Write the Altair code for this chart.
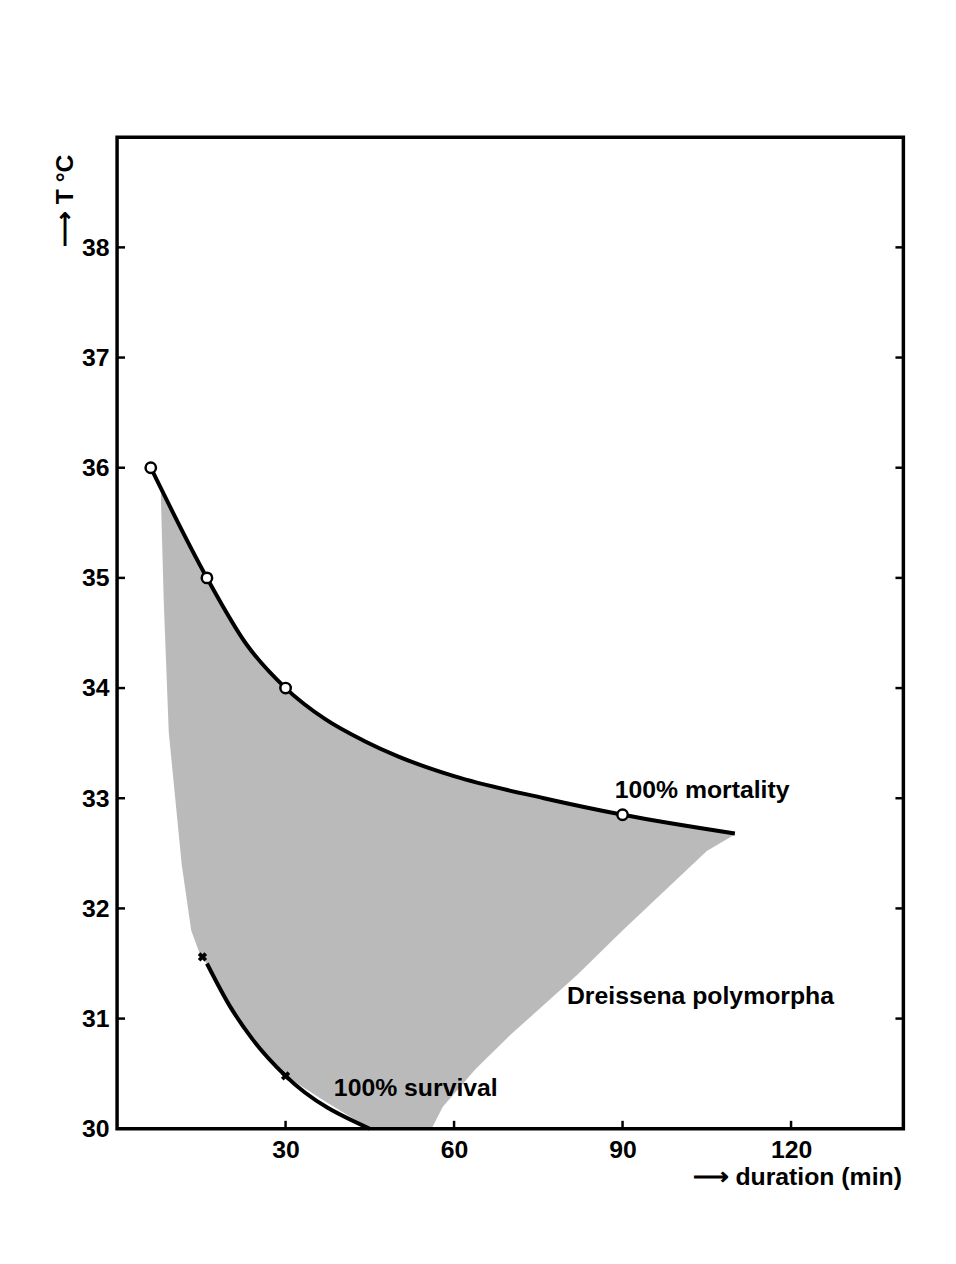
import altair as alt
import pandas as pd

# ---- data ----
# 100% mortality curve (duration min, temperature C)
mort_x = [6, 16, 23, 30, 37, 44, 50, 60, 76, 90, 110]
mort_t = [36.0, 35.0, 34.4, 34.0, 33.72, 33.52, 33.38, 33.2, 33.0, 32.85, 32.68]
# measured points on the mortality curve (open circles)
mort_pt_x = [6, 16, 30, 90]
mort_pt_t = [36.0, 35.0, 34.0, 32.85]
# 100% survival curve
surv_x = [16, 20, 24, 30, 45]
surv_t = [31.5, 31.12, 30.82, 30.48, 30.0]
# measured points on the survival curve (crosses)
surv_pt_x = [15.2, 30]
surv_pt_t = [31.56, 30.48]
# stippled zone between the two limits
zone_x = [7.8, 8.3, 9.2, 11.5, 13.2, 15, 16, 20, 24, 30, 37, 45, 56, 58, 63.8, 70, 82, 90, 100, 105, 110]
zone_top = [35.82, 35.77, 35.68, 35.45, 35.28, 35.1, 35.0, 34.65, 34.34, 34.0, 33.72, 33.5, 33.26, 33.22,
            33.14, 33.06, 32.94, 32.85, 32.76, 32.72, 32.67]
zone_bot = [35.73, 34.8, 33.6, 32.4, 31.8, 31.55, 31.5, 31.12, 30.82, 30.48, 30.25, 30.0, 30.0, 30.2,
            30.54, 30.85, 31.4, 31.8, 32.28, 32.52, 32.67]
# annotations
label_text = ["100% mortality", "Dreissena polymorpha", "100% survival"]
label_x = [88.6, 80.1, 38.6]
label_t = [33.0, 31.13, 30.3]
# axes
x_ticks = [30, 60, 90, 120]
y_ticks = [30, 31, 32, 33, 34, 35, 36, 37, 38]

W, H = 793, 1000
FONT = "Liberation Sans"

xs = alt.Scale(domain=[0, 140], nice=False, zero=False)
ys = alt.Scale(domain=[30, 39], nice=False, zero=False)

mort = pd.DataFrame({"x": mort_x, "t": mort_t})
mort_pts = pd.DataFrame({"x": mort_pt_x, "t": mort_pt_t})
surv = pd.DataFrame({"x": surv_x, "t": surv_t})
surv_pts = pd.DataFrame({"x": surv_pt_x, "t": surv_pt_t})
zone = pd.DataFrame({"x": zone_x, "top": zone_top, "bot": zone_bot})
labels = pd.DataFrame({"x": label_x, "t": label_t, "text": label_text})
yt = pd.DataFrame({"t": y_ticks[1:]})
xt = pd.DataFrame({"x": x_ticks})

x_axis = alt.Axis(values=x_ticks, format="d", title="⟶ duration (min)", tickSize=0, domain=False,
                  grid=False, labelPadding=9, labelFontSize=25, labelFontWeight="bold", labelFont=FONT,
                  labelColor="black", titleFont=FONT, titleFontSize=25, titleFontWeight="bold",
                  titleColor="black", titleAnchor="end", titleAlign="right", titleX=W - 2,
                  titleY=56, titleBaseline="alphabetic")
y_axis = alt.Axis(values=y_ticks, format="d", title="⟶ T °C", tickSize=0, domain=False, grid=False,
                  labelPadding=8, labelFontSize=25, labelFontWeight="bold", labelFont=FONT,
                  labelColor="black", labelBaseline="middle", titleFont=FONT, titleFontSize=25,
                  titleFontWeight="bold", titleColor="black", titleAngle=270, titleAnchor="end",
                  titleAlign="right", titleX=-53, titleY=17, titleBaseline="middle")

area = alt.Chart(zone).mark_area(color="black", opacity=0.27, interpolate="linear").encode(
    x=alt.X("x:Q", scale=xs, axis=x_axis),
    y=alt.Y("top:Q", scale=ys, axis=y_axis),
    y2="bot:Q",
)

mort_line = alt.Chart(mort).mark_line(color="black", strokeWidth=4, interpolate="monotone").encode(
    x=alt.X("x:Q", scale=xs), y=alt.Y("t:Q", scale=ys))
surv_line = alt.Chart(surv).mark_line(color="black", strokeWidth=4, interpolate="monotone").encode(
    x=alt.X("x:Q", scale=xs), y=alt.Y("t:Q", scale=ys))

mort_marks = alt.Chart(mort_pts).mark_point(shape="circle", size=110, filled=False, fill="white",
                                            fillOpacity=1, stroke="black", strokeWidth=2.5,
                                            opacity=1).encode(
    x=alt.X("x:Q", scale=xs), y=alt.Y("t:Q", scale=ys))
surv_marks = alt.Chart(surv_pts).mark_point(shape="cross", angle=45, size=90, filled=True,
                                            color="black", opacity=1).encode(
    x=alt.X("x:Q", scale=xs), y=alt.Y("t:Q", scale=ys))

texts = alt.Chart(labels).mark_text(font=FONT, fontSize=25, fontWeight="bold", align="left",
                                    baseline="alphabetic", color="black").encode(
    x=alt.X("x:Q", scale=xs), y=alt.Y("t:Q", scale=ys), text="text:N")

# inward ticks on left, right and bottom frame sides
lticks = alt.Chart(yt).mark_rule(color="black", strokeWidth=2.5).encode(
    y=alt.Y("t:Q", scale=ys), x=alt.value(0), x2=alt.value(8))
rticks = alt.Chart(yt).mark_rule(color="black", strokeWidth=2.5).encode(
    y=alt.Y("t:Q", scale=ys), x=alt.value(W - 8), x2=alt.value(W))
bticks = alt.Chart(xt).mark_rule(color="black", strokeWidth=2.5).encode(
    x=alt.X("x:Q", scale=xs), y=alt.value(H), y2=alt.value(H - 8))

chart = alt.layer(area, mort_line, surv_line, mort_marks, surv_marks, texts, lticks, rticks, bticks).properties(
    width=W, height=H,
    autosize=alt.AutoSizeParams(type="none"),
    padding={"left": 110, "top": 125, "right": 45, "bottom": 120},
    background="white",
).configure_view(stroke="black", strokeWidth=3.5)

chart.save("out.html", embed_options={"renderer": "svg", "actions": False})
